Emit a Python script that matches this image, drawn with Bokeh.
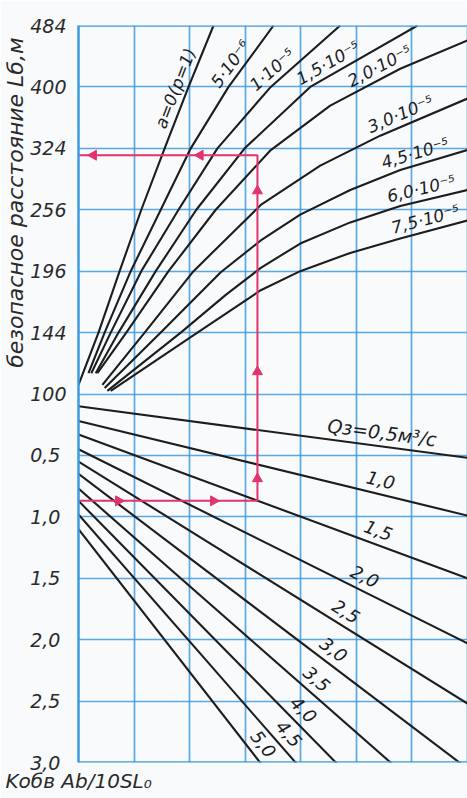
import math
import numpy as np
from bokeh.plotting import figure
from bokeh.models import FixedTicker, Span, Range1d, ColumnDataSource, Title
from bokeh.core.properties import value
from bokeh.embed import file_html
from bokeh.resources import INLINE

# ---------------- values ----------------
# upper scale: safe distance L (m), square-root scale
L_ticks = [100, 144, 196, 256, 324, 400, 484]
L_tick_labels = ["100", "144", "196", "256", "324", "400", "484"]
# lower scale: K_обв*Ab/10SL0, growing downward
K_ticks = [0.5, 1.0, 1.5, 2.0, 2.5, 3.0]
K_tick_labels = ["0,5", "1,0", "1,5", "2,0", "2,5", "3,0"]
x_grid = [0, 1, 2, 3, 4, 5, 6, 7]

a_names = ["a=0(p=1)", "5·10⁻⁶", "1·10⁻⁵", "1,5·10⁻⁵", "2,0·10⁻⁵",
           "3,0·10⁻⁵", "4,5·10⁻⁵", "6,0·10⁻⁵", "7,5·10⁻⁵"]
a_x = [
    [0.00, 0.36, 0.74, 1.13, 1.55, 1.98, 2.43],
    [0.18, 0.47, 0.94, 1.48, 2.02, 2.70, 3.51],
    [0.23, 0.58, 1.13, 1.80, 2.50, 3.46, 4.71],
    [0.31, 0.72, 1.39, 2.12, 2.99, 4.17, 6.10],
    [0.34, 0.86, 1.62, 2.47, 3.46, 4.53, 5.79, 7.00],
    [0.43, 1.19, 2.07, 3.28, 4.35, 5.43, 7.00],
    [0.47, 1.48, 2.56, 3.28, 3.99, 4.89, 5.79, 7.00],
    [0.52, 1.84, 2.65, 3.28, 3.99, 4.89, 5.79, 7.00],
    [0.58, 2.14, 3.28, 3.99, 4.89, 5.79, 7.00],
]
a_L = [
    [106, 144, 196, 256, 324, 400, 484],
    [114, 144, 196, 256, 324, 400, 484],
    [114, 144, 196, 256, 324, 400, 484],
    [114, 144, 196, 256, 324, 400, 484],
    [114, 144, 196, 256, 322, 376, 424, 463],
    [106, 144, 196, 261, 304, 339, 385],
    [104, 144, 195, 225, 251, 277, 299, 322],
    [102, 144, 175, 199, 222, 243, 260, 277],
    [102, 144, 179, 196, 213, 227, 245],
]

q_names = ["Qз=0,5м³/с", "1,0", "1,5", "2,0", "2,5", "3,0", "3,5", "4,0", "4,5", "5,0"]
q_x_read = [0, 7]
q_K_left = [0.10, 0.22, 0.33, 0.45, 0.55, 0.65, 0.77, 0.87, 0.98, 1.10]
q_K_right = [0.52, 0.99, 1.50, 2.03, 2.52, 3.05, 3.55, 4.09, 4.60, 5.17]

# worked example (pink route)
route_K = 0.87
route_x = 3.22
route_L = 316
arrow_bottom_x = [0.72, 2.43]
arrow_up_K = [0.69]
arrow_up_L = [115, 276]
arrow_top_x = [0.27, 2.19]

# ---------------- layout ----------------
W = 467
ML, MR, MT, MB = 78, 0, 25, 36
FH = 737
H = MT + FH + MB
FW = W - ML - MR
X_END = FW / 55.57
SX = FW / X_END
SY = FH / 24.0

a_label_x = [1.94, 2.91, 3.63, 4.60, 5.52, 5.88, 6.12, 6.22, 6.30]
q_label_x = [5.43, 5.38, 5.31, 5.04, 4.68, 4.44, 4.12, 3.87, 3.60, 3.13]
q_label_size = ["19px"] + ["18px"] * 9

BLUE = "#3d9ae0"
INK = "#1d1d1d"
TXT = "#2a2a2a"
PINK = "#e4336c"
BG = "#f8fafc"
FONT = "DejaVu Sans"
NBSP = "\u00a0"


def up(L):
    return np.sqrt(np.asarray(L, dtype=float)) - 10.0


def down(K):
    return -4.0 * np.asarray(K, dtype=float)


p = figure(width=W, height=H, x_range=Range1d(0, X_END), y_range=Range1d(-12, 12),
           output_backend="svg", toolbar_location=None,
           min_border_left=ML, min_border_right=MR, min_border_top=MT, min_border_bottom=MB)
p.background_fill_color = BG
p.border_fill_color = BG
p.outline_line_color = None

ytick_vals = [float(v) for v in up(L_ticks)] + [float(v) for v in down(K_ticks)]
overrides = {}
for v, t in zip(up(L_ticks), L_tick_labels):
    overrides[float(v)] = t
for v, t in zip(down(K_ticks), K_tick_labels):
    overrides[float(v)] = t + NBSP

p.xgrid.ticker = FixedTicker(ticks=x_grid)
p.ygrid.ticker = FixedTicker(ticks=ytick_vals + [0.0])
p.grid.grid_line_color = BLUE
p.grid.grid_line_width = 1.7
p.grid.grid_line_alpha = 0.85
p.xaxis.visible = False

yax = p.yaxis[0]
yax.ticker = FixedTicker(ticks=ytick_vals)
yax.major_label_overrides = overrides
yax.axis_line_color = BLUE
yax.axis_line_width = 2.5
yax.major_tick_line_color = None
yax.minor_tick_line_color = None
yax.major_label_standoff = 6
yax.major_label_text_font = FONT
yax.major_label_text_font_style = "italic"
yax.major_label_text_font_size = "19px"
yax.major_label_text_color = TXT

p.add_layout(Title(text="безопасное расстояние Lб,м", align="right", offset=12,
                   standoff=0, text_font=FONT, text_font_style="italic",
                   text_font_size="22px", text_color=TXT), "left")

# abscissa caption K_обв Ab/10SL_0 under the frame, starting at the page's left edge
p.add_layout(Title(text="Kобв Ab/10SL₀", align="left", offset=-73, standoff=8,
                   text_font=FONT, text_font_style="italic",
                   text_font_size="20px", text_color=TXT), "below")

for loc in (12, -12):
    p.add_layout(Span(location=loc, dimension="width", line_color=BLUE, line_width=2.5))

# ---- curves of the upper part ----
xs_a = [list(map(float, xx)) for xx in a_x]
ys_a = [list(map(float, up(LL))) for LL in a_L]
p.multi_line(xs=xs_a, ys=ys_a, line_color=INK, line_width=2.1, line_join="round")

# ---- lines of the lower part ----
xs_q = [list(map(float, q_x_read)) for _ in q_names]
ys_q = [[float(down(k0)), float(down(k1))] for k0, k1 in zip(q_K_left, q_K_right)]
p.multi_line(xs=xs_q, ys=ys_q, line_color=INK, line_width=2.1)


def label_rows(xs_list, ys_list, foot_list, names, dist):
    rx, ry, ang, xo, yo = [], [], [], [], []
    for xx, yy, fx in zip(xs_list, ys_list, foot_list):
        xx = np.asarray(xx)
        yy = np.asarray(yy)
        i = int(np.clip(np.searchsorted(xx, fx) - 1, 0, len(xx) - 2))
        slope = (yy[i + 1] - yy[i]) / (xx[i + 1] - xx[i])
        fy = float(np.interp(fx, xx, yy))
        m = slope * SY / SX
        n = math.hypot(1.0, m)
        rx.append(fx)
        ry.append(fy)
        ang.append(math.atan(m))
        xo.append(-dist * m / n)
        yo.append(-dist / n)
    return dict(x=rx, y=ry, text=list(names), angle=ang, xo=xo, yo=yo)


src_a = ColumnDataSource(label_rows(xs_a, ys_a, a_label_x, a_names, 12))
p.text(x="x", y="y", text="text", angle="angle", x_offset="xo", y_offset="yo",
       source=src_a, text_align="center", text_baseline="middle",
       text_font=value(FONT), text_font_style="italic", text_font_size="17px",
       text_color=INK)

qd = label_rows(xs_q, ys_q, q_label_x, q_names, 14)
qd["size"] = q_label_size
src_q = ColumnDataSource(qd)
p.text(x="x", y="y", text="text", angle="angle", x_offset="xo", y_offset="yo",
       source=src_q, text_align="center", text_baseline="middle",
       text_font=value(FONT), text_font_style="italic", text_font_size="size",
       text_color=INK)

# ---- pink worked example ----
yb = float(down(route_K))
yt = float(up(route_L))
p.line([0, route_x, route_x, 0], [yb, yb, yt, yt], line_color=PINK, line_width=2)
p.scatter(arrow_bottom_x, [yb] * len(arrow_bottom_x), marker="triangle", size=10,
          angle=-math.pi / 2, color=PINK)
p.scatter(arrow_top_x, [yt] * len(arrow_top_x), marker="triangle", size=10,
          angle=math.pi / 2, color=PINK)
vy = [float(v) for v in down(arrow_up_K)] + [float(v) for v in up(arrow_up_L)]
p.scatter([route_x] * len(vy), vy, marker="triangle", size=10, color=PINK)

open("out.html", "w").write(file_html(p, INLINE))
